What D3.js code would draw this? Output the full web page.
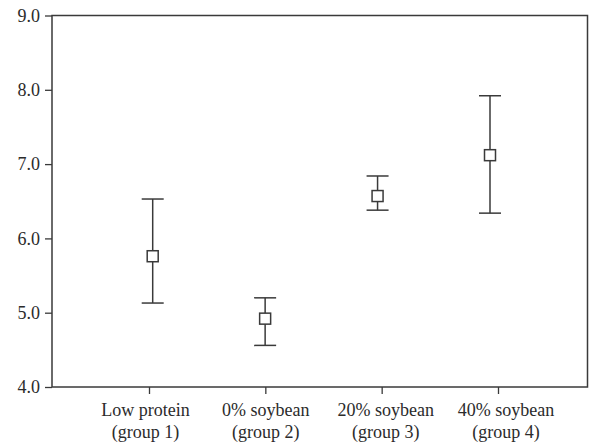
<!DOCTYPE html>
<html>
<head>
<meta charset="utf-8">
<script src="https://cdn.jsdelivr.net/npm/d3@7"></script>
<style>
html,body{margin:0;padding:0;background:#fff;}
svg{display:block;}
</style>
</head>
<body>
<svg id="chart" width="589" height="444" font-family="Liberation Serif"></svg>
<script>
const categories = ["Low protein|(group 1)", "0% soybean|(group 2)", "20% soybean|(group 3)", "40% soybean|(group 4)"];
const means = [5.76, 4.92, 6.57, 7.12];
const upper = [6.53, 5.20, 6.84, 7.92];
const lower = [5.13, 4.56, 6.38, 6.34];
const yTicks = [4.0, 5.0, 6.0, 7.0, 8.0, 9.0];

const svg = d3.select("#chart");
const mLeft = 52, mRight = 587.5, mTop = 15.5, mBottom = 387;
const col = "#3a3a3a";
const txtCol = "#2b2b2b";
const FONT = "Liberation Serif";

const y = d3.scaleLinear().domain([4, 9]).range([mBottom, mTop]);
const xTick = d3.scalePoint().domain(categories).range([149, 498]);
const xMark = d3.scalePoint().domain(categories).range([152.7, 490]);
const xLabel = d3.scalePoint().domain(categories).range([145.5, 506]);

// frame
svg.append("rect").attr("x", mLeft).attr("y", mTop)
  .attr("width", mRight - mLeft).attr("height", mBottom - mTop)
  .attr("fill", "none").attr("stroke", col).attr("stroke-width", 1.5);

// y axis
const yAxis = svg.append("g").attr("transform", `translate(${mLeft},0)`)
  .call(d3.axisLeft(y).tickValues(yTicks).tickFormat(d3.format(".1f")).tickSize(7).tickPadding(5));
yAxis.attr("font-family", FONT).attr("font-size", 18);
yAxis.select(".domain").remove();
yAxis.selectAll("line").attr("stroke", col).attr("stroke-width", 1.3);
yAxis.selectAll("text").attr("font-family", FONT).attr("font-size", 18).attr("fill", txtCol);

// x axis
const xAxis = svg.append("g").attr("transform", `translate(0,${mBottom})`)
  .call(d3.axisBottom(xTick).tickSize(7).tickFormat(""));
xAxis.attr("font-family", FONT);
xAxis.select(".domain").remove();
xAxis.selectAll("line").attr("stroke", col).attr("stroke-width", 1.3);

const labels = svg.append("g").attr("transform", `translate(0,${mBottom})`)
  .attr("font-family", FONT).attr("font-size", 18).attr("fill", txtCol);
categories.forEach(c => {
  const parts = c.split("|");
  const t = labels.append("text").attr("text-anchor", "middle")
    .attr("font-family", FONT).attr("font-size", 18).attr("fill", txtCol);
  t.append("tspan").attr("x", xLabel(c)).attr("y", 28.7).text(parts[0]);
  t.append("tspan").attr("x", xLabel(c)).attr("y", 51.3).text(parts[1]);
});

// error bars
const g = svg.append("g").attr("stroke", col).attr("fill", "none");
categories.forEach((c, i) => {
  const cx = xMark(c);
  g.append("line").attr("x1", cx).attr("x2", cx).attr("y1", y(upper[i])).attr("y2", y(lower[i])).attr("stroke-width", 1.5);
  g.append("line").attr("x1", cx - 11).attr("x2", cx + 11).attr("y1", y(upper[i])).attr("y2", y(upper[i])).attr("stroke-width", 1.5);
  g.append("line").attr("x1", cx - 11).attr("x2", cx + 11).attr("y1", y(lower[i])).attr("y2", y(lower[i])).attr("stroke-width", 1.5);
  g.append("rect").attr("x", cx - 5.5).attr("y", y(means[i]) - 5.5).attr("width", 11).attr("height", 11)
    .attr("fill", "#fff").attr("stroke-width", 1.5);
});
</script>
</body>
</html>
